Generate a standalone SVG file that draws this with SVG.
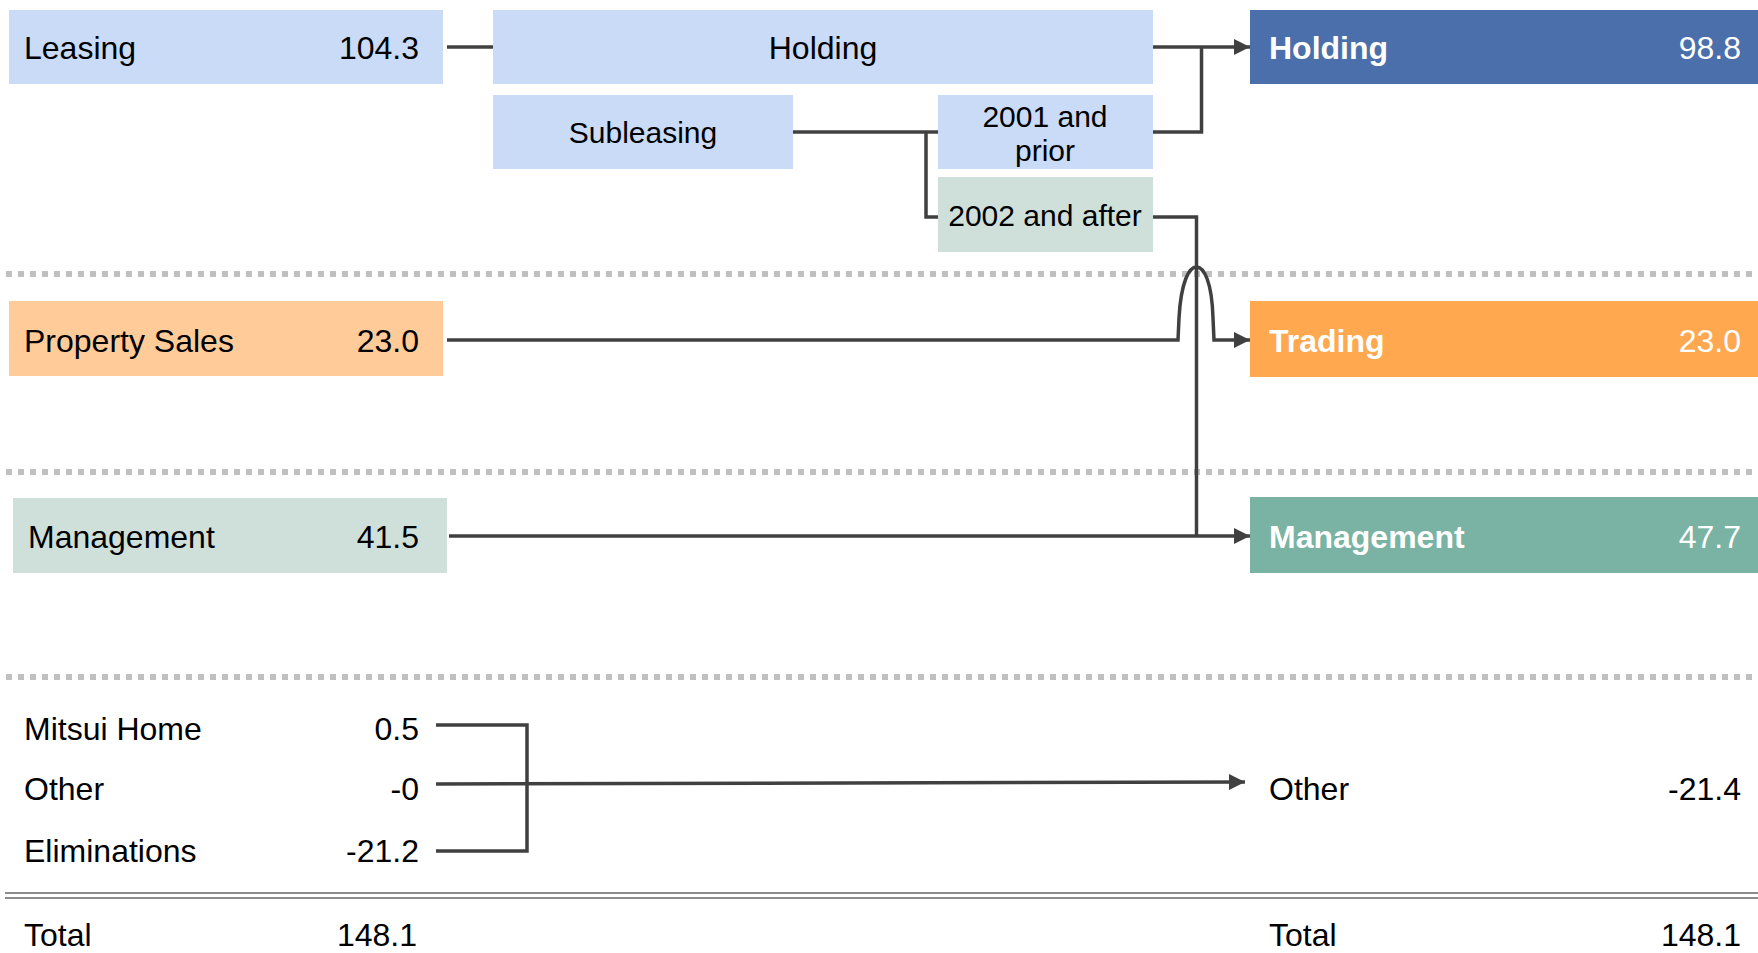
<svg xmlns="http://www.w3.org/2000/svg" width="1758" height="953" viewBox="0 0 1758 953">
<defs>
<marker id="arr" viewBox="0 0 10 10" refX="10" refY="5" markerWidth="17" markerHeight="16" markerUnits="userSpaceOnUse" orient="auto"><path d="M0,0 L10,5 L0,10 z" fill="#404040"/></marker>
</defs>
<style>
text{font-family:"Liberation Sans",Arial,sans-serif;font-size:32px;fill:#000}
.w{fill:#fff}
.b{font-weight:bold}
.s{font-size:30px}
.m{text-anchor:middle}
.e{text-anchor:end}
.dot{stroke:#c0c0c0;stroke-width:6;stroke-dasharray:6 6;fill:none}
.con{stroke:#404040;stroke-width:3.5;fill:none}
.dbl{stroke:#8c8c8c;stroke-width:2;fill:none}
</style>
<rect width="1758" height="953" fill="#fff"/>
<g id="separators">
<line class="dot" x1="6" y1="274" x2="1758" y2="274"/>
<line class="dot" x1="6" y1="472" x2="1758" y2="472"/>
<line class="dot" x1="6" y1="677" x2="1758" y2="677"/>
<line class="dbl" x1="5" y1="893" x2="1758" y2="893"/>
<line class="dbl" x1="5" y1="898" x2="1758" y2="898"/>
</g>
<g id="connectors">
<path class="con" d="M447,47 H493"/>
<path class="con" d="M1153,47 H1250" marker-end="url(#arr)"/>
<path class="con" d="M1153,132 H1201.5 V47"/>
<path class="con" d="M793,132 H938"/>
<path class="con" d="M926,132 V217 H938"/>
<path class="con" d="M1153,217 H1196.5 V536"/>
<path class="con" d="M447,340 H1178 L1179,318 C1181,282 1189,267 1196.5,267 C1204,267 1212,282 1213,318 L1214,340 H1250" marker-end="url(#arr)"/>
<path class="con" d="M449,536 H1250" marker-end="url(#arr)"/>
<path class="con" d="M436,725 H527 V851 H436"/>
<path class="con" d="M436,784 L1245,782" marker-end="url(#arr)"/>
</g>
<g id="leasing">
<rect x="9" y="10" width="434" height="74" fill="#c9dbf7"/>
<text x="24" y="59">Leasing</text>
<text class="e" x="419" y="59">104.3</text>
</g>
<g id="holding-src">
<rect x="493" y="10" width="660" height="74" fill="#c9dbf7"/>
<text class="m" x="823" y="59">Holding</text>
</g>
<g id="subleasing">
<rect x="493" y="95" width="300" height="74" fill="#c9dbf7"/>
<text class="m s" x="643" y="143">Subleasing</text>
</g>
<g id="prior2001">
<rect x="938" y="95" width="215" height="74" fill="#c9dbf7"/>
<text class="m s" x="1045" y="127">2001 and</text>
<text class="m s" x="1045" y="161">prior</text>
</g>
<g id="after2002">
<rect x="938" y="177" width="215" height="75" fill="#cfe0da"/>
<text class="m s" x="1045" y="226">2002 and after</text>
</g>
<g id="holding">
<rect x="1250" y="10" width="508" height="74" fill="#4a6fab"/>
<text class="w b" x="1269" y="59">Holding</text>
<text class="w e" x="1741" y="59">98.8</text>
</g>
<g id="property-sales">
<rect x="9" y="301" width="434" height="75" fill="#ffcc99"/>
<text x="24" y="352">Property Sales</text>
<text class="e" x="419" y="352">23.0</text>
</g>
<g id="trading">
<rect x="1250" y="301" width="508" height="76" fill="#ffa850"/>
<text class="w b" x="1269" y="352">Trading</text>
<text class="w e" x="1741" y="352">23.0</text>
</g>
<g id="management-src">
<rect x="13" y="498" width="434" height="75" fill="#cfe0da"/>
<text x="28" y="548">Management</text>
<text class="e" x="419" y="548">41.5</text>
</g>
<g id="management">
<rect x="1250" y="497" width="508" height="76" fill="#7ab3a3"/>
<text class="w b" x="1269" y="548">Management</text>
<text class="w e" x="1741" y="548">47.7</text>
</g>
<g id="others-src">
<text x="24" y="740">Mitsui Home</text>
<text class="e" x="419" y="740">0.5</text>
<text x="24" y="800">Other</text>
<text class="e" x="419" y="800">-0</text>
<text x="24" y="862">Eliminations</text>
<text class="e" x="419" y="862">-21.2</text>
</g>
<g id="other">
<text x="1269" y="800">Other</text>
<text class="e" x="1741" y="800">-21.4</text>
</g>
<g id="totals">
<text x="24" y="946">Total</text>
<text class="e" x="417" y="946">148.1</text>
<text x="1269" y="946">Total</text>
<text class="e" x="1741" y="946">148.1</text>
</g>
</svg>
